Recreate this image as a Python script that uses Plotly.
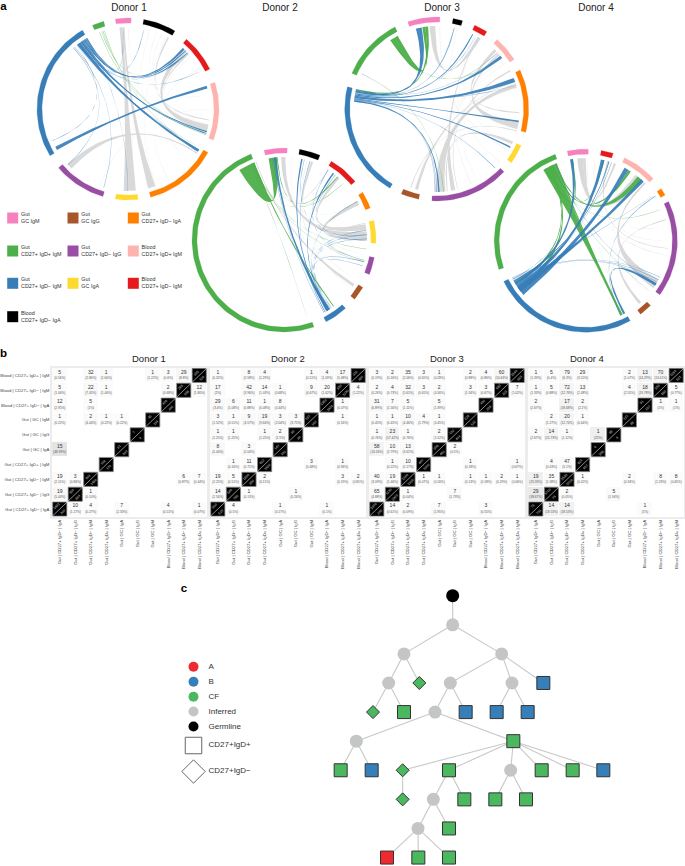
import math
import plotly.graph_objects as go

W, H = 685, 866

# ---------- palette ----------
COL = dict(pink="#f781bf", brown="#a65628", orange="#ff7f00", green="#4daf4a", purple="#984ea3",
           blue="#377eb8", yellow="#ffd92f", lpink="#fdb4ae", red="#e41a1c", black="#000000")
CHORD_COL = dict(g="rgba(215,215,215,0.95)", l="rgba(225,225,225,0.5)", b="rgba(55,126,184,0.92)",
                 t="rgba(55,126,184,0.6)", v="rgba(77,175,74,0.95)", w="rgba(77,175,74,0.55)")

# ---------- panel a : circos sectors (name, start deg, end deg), clockwise from top ----------
D1_SECTORS = [("green", -23, -15.5), ("pink", -8, 2), ("black", 10, 31), ("red", 40, 64), ("lpink", 73, 110),
              ("orange", 118.5, 165.6), ("yellow", 173.7, 188), ("purple", 196, 229.7), ("blue", 239, 330)]
D2_SECTORS = [("green", 161, 339), ("pink", 347.5, 362), ("black", 9.8, 23), ("red", 31, 50.6), ("orange", 58.8, 69.6),
              ("yellow", 77.8, 92), ("purple", 101, 112), ("brown", 121, 130), ("blue", 138, 152.8)]
D3_SECTORS = [("pink", 341.7, 362), ("black", 10.3, 16.3), ("red", 24.4, 33), ("lpink", 41, 57.4), ("orange", 65, 104.7),
              ("yellow", 113.4, 125.7), ("purple", 133, 183), ("brown", 191.3, 202.6), ("blue", 210.6, 284),
              ("green", 292.8, 333)]
D4_SECTORS = [("pink", 348.3, 361.6), ("red", 9.7, 17.4), ("lpink", 25, 47.4), ("orange", 55.4, 60), ("purple", 64.7, 126.2),
              ("brown", 135, 143.3), ("blue", 151, 243.6), ("green", 251.7, 340.5)]

# chords: (style, a0, a1, b0, b1) in degrees
D1_CHORDS = [
    ("l", 15, 15.4, 176, 176.4), ("l", 0, 0.4, 120, 120.4), ("l", 28, 28.4, 160, 160.4), ("l", 24, 24.4, 100, 100.4),
    ("l", 50, 50.4, 130, 130.4), ("l", 20, 20.4, 80, 80.4), ("l", 200, 200.4, 90, 90.4), ("l", 150, 150.4, 60, 60.4),
    ("g", 174.5, 183, 354, 356), ("g", 160.6, 165.8, 356, 357.5), ("g", 223.5, 227.6, 122, 123),
    ("g", 42, 46, 101, 106), ("g", 29, 30, 97, 98), ("g", 47, 48, 103, 104),
    ("w", -20.5, -20.1, 108, 108.4), ("w", -18, -17.6, 107, 107.4), ("w", -19, -18.6, 44, 44.4), ("w", -17, -16.6, 120, 120.4),
    ("b", 321.6, 324.5, 119.5, 121.5), ("b", 324.5, 326, 105.5, 106.5), ("b", 326, 327, 107, 107.6), ("b", 327, 328.4, 42, 43.5),
    ("b", 328.4, 329.2, 44, 45), ("b", 329.2, 330, 46, 47), ("t", 322, 322.5, 47, 47.5),
    ("b", 240, 242.5, 73.5, 75.5), ("t", 325, 325.4, 62, 62.5), ("t", 325.6, 326, 356, 356.5), ("t", 323, 323.4, 11, 11.5),
    ("t", 319, 319.4, 197, 197.4), ("t", 318, 318.4, 227, 227.4), ("t", 247, 247.4, 320, 320.4), ("t", 330, 330.3, 180, 180.3),
    ("t", 321, 321.3, 118, 118.4),
]
D2_CHORDS = [
    ("l", 352, 352.5, 46, 46.5), ("l", 12, 12.5, 118, 118.5), ("l", 359, 359.5, 82, 82.5), ("l", 16, 16.5, 125, 125.5), ("l", 5, 5.4, 100, 100.4),
    ("l", 352, 352.4, 64, 64.4), ("g", 358, 361, 84, 89), ("g", 40, 42, 79, 83), ("g", 19, 20.5, 40, 41), ("g", 62, 65, 88, 90.5),
    ("g", 122, 124, 340, 340.6), ("g", 105, 105.6, 78, 78.6), ("g", 350, 350.6, 32, 32.6),
    ("v", 327.4, 339, 349.3, 355), ("v", 338, 339, 142.5, 143.5), ("w", 336, 336.4, 163.4, 163.8), ("w", 338, 338.4, 96, 96.4),
    ("w", 337.5, 337.9, 104, 104.4), ("w", 337, 337.4, 46, 46.5), ("v", 355, 355.6, 40, 40.6),
    ("b", 146.5, 149, 353, 354.6), ("b", 148, 148.8, 12, 13), ("t", 150, 150.4, 18, 18.5), ("b", 147, 147.6, 36, 37), ("t", 148, 148.4, 62, 62.5),
    ("t", 145, 145.4, 86, 86.5), ("t", 146, 146.4, 89, 89.5), ("t", 146.5, 146.9, 105, 105.5), ("t", 149, 149.4, 83, 83.5),
    ("t", 150, 150.4, 108, 108.4), ("t", 151, 151.4, 352, 352.4), ("t", 14, 14.4, 90, 90.4), ("t", 32, 32.4, 104, 104.4), ("t", 38, 38.4, 87, 87.4),
]
D3_CHORDS = [
    ("l", 2, 2.5, 130, 130.4), ("l", 14, 14.4, 155, 155.5), ("l", 349, 349.5, 120, 120.5), ("l", 52, 52.5, 176, 176.5), ("l", 30, 30.5, 150, 150.5),
    ("l", 75, 75.5, 115, 115.5), ("l", 27, 27.4, 100, 100.4), ("l", 56, 56.4, 195, 195.4),
    ("g", 355, 359, 29.5, 32), ("g", 44, 46, 92, 93), ("g", 72, 75, 174, 181), ("g", 99, 104, 48, 49.5), ("g", 113, 115, 172, 173), ("g", 30, 30.6, 167, 170),
    ("g", 193, 195, 70, 70.6), ("g", 198, 198.6, 105, 105.6), ("g", 62, 63, 165, 165.6),
    ("v", 326, 332, 350, 352), ("w", 326, 326.5, 50, 50.5), ("w", 295, 295.4, 175, 175.4), ("v", 352, 354, 283, 284),
    ("b", 281.5, 283, 345.5, 349.5), ("t", 281, 281.5, 11.5, 12.5), ("b", 280.3, 281, 25, 26), ("b", 279.3, 280.3, 50, 52),
    ("b", 277.5, 279.3, 68, 71), ("b", 277, 277.5, 98, 99.2), ("b", 276.5, 277, 117, 118), ("t", 276, 276.5, 135, 135.5), ("b", 275, 276, 178, 179),
    ("t", 275, 275.4, 181, 181.4), ("t", 276, 276.4, 180, 180.4), ("t", 282, 282.4, 28, 28.4), ("t", 283, 283.4, 47, 47.4), ("t", 283, 283.4, 73, 73.5),
]
D4_CHORDS = [
    ("l", 6, 6.5, 100, 100.4), ("l", 30, 30.4, 90, 90.5), ("l", 35, 35.4, 130, 130.4), ("l", 1, 1.4, 150, 150.5), ("l", 355, 355.4, 100, 100.5),
    ("l", 16, 16.4, 80, 80.4), ("g", 118, 125, 45, 46.5), ("g", 138, 140, 75, 75.6), ("g", 15, 16, 95, 95.6), ("g", 354, 357, 37, 40), ("g", 42, 44, 356, 358),
    ("g", 358, 360, 20, 21.5),
    ("v", 338, 339.5, 153.5, 155), ("v", 329, 338, 154, 155), ("v", 338, 339, 39, 43), ("v", 336, 337, 12, 13), ("v", 335, 336, 31, 33),
    ("v", 334, 335, 232, 235), ("v", 333, 334, 238, 239.4), ("w", 332, 332.4, 67, 67.4), ("v", 330, 332, 350, 351), ("w", 333, 333.4, 128, 128.4),
    ("b", 229, 234, 28, 31), ("b", 234, 237.5, 10.5, 13), ("b", 237.5, 240, 349, 351), ("b", 232, 236, 42, 44.5), ("t", 240, 240.4, 56, 56.5),
    ("b", 240, 241, 16, 16.6), ("b", 151.5, 153, 121, 123), ("t", 155, 155.4, 57, 57.6), ("t", 241, 241.4, 118, 118.5), ("t", 242, 242.4, 116, 116.4), ("t", 237, 237.4, 18, 18.4),
    ("t", 243, 243.4, 120, 120.4), ("t", 242, 242.4, 350, 350.4), ("t", 338, 338.4, 122, 122.4),
]

# name, centre x, centre y, radius, sectors, chords, title x
DONORS_A = [
    ("Donor 1", 128, 109, 91, D1_SECTORS, D1_CHORDS, 129),
    ("Donor 2", 284, 240, 92, D2_SECTORS, D2_CHORDS, 280),
    ("Donor 3", 436.7, 109, 92, D3_SECTORS, D3_CHORDS, 442),
    ("Donor 4", 585.8, 240.7, 91.6, D4_SECTORS, D4_CHORDS, 596),
]

LEGEND_A = [("pink", "Gut", "GC IgM"), ("green", "Gut", "CD27+ IgD+ IgM"), ("blue", "Gut", "CD27+ IgD\u2212 IgM"),
            ("black", "Blood", "CD27+ IgD\u2212 IgA"), ("brown", "Gut", "GC IgG"), ("purple", "Gut", "CD27+ IgD\u2212 IgG"),
            ("yellow", "Gut", "GC IgA"), ("orange", "Gut", "CD27+ IgD\u2212 IgA"), ("lpink", "Blood", "CD27+ IgD+ IgM"),
            ("red", "Blood", "CD27+ IgD\u2212 IgM")]
LEGEND_A_X = [12.7, 12.7, 12.7, 12.7, 73, 73, 73, 133.3, 133.3, 133.3]
LEGEND_A_Y = [218, 251, 283.3, 316.7, 218, 251, 283.3, 218, 251, 283.3]

# ---------- panel b ----------
ROW_LABELS = ["Blood | CD27+ IgD+ | IgM", "Blood | CD27+ IgD\u2212 | IgM", "Blood | CD27+ IgD\u2212 | IgA", "Gut | GC | IgM", "Gut | GC | IgG",
              "Gut | GC | IgA", "Gut | CD27+ IgD+ | IgM", "Gut | CD27+ IgD\u2212 | IgM", "Gut | CD27+ IgD\u2212 | IgG", "Gut | CD27+ IgD\u2212 | IgA"]
COL_LABELS = ROW_LABELS[::-1]

D1_CELLS = [(0,0,5,"0.56"),(0,2,32,"2.86"),(0,3,1,"1.60"),(0,6,1,"1.22"),(0,7,3,"0.6"),(0,8,29,"8.8"),
            (1,0,5,"1.06"),(1,2,22,"7.45"),(1,3,1,"1.06"),(1,7,2,"0.68"),(1,9,12,"1.80"),
            (2,0,12,"2.95"),(2,2,5,"1"),(3,0,1,"0.22"),(3,2,2,"4.44"),(3,3,1,"0.22"),(3,4,1,"0.22"),
            (5,0,15,"48.39"),(7,0,19,"2.11"),(7,1,3,"0.86"),(7,8,6,"0.87"),(7,9,7,"0.44"),
            (8,0,19,"5.44"),(8,2,1,"0.10"),(9,1,10,"1.17"),(9,2,4,"0.27"),(9,4,7,"2.33"),(9,7,4,"0.51"),(9,9,1,"0.07")]
D2_CELLS = [(0,0,1,"0.32"),(0,2,8,"2.58"),(0,3,4,"1.29"),(0,6,1,"0.51"),(0,7,4,"1.09"),(0,8,17,"5.48"),
            (1,0,17,"2"),(1,2,42,"3.96"),(1,3,14,"1.03"),(1,4,1,"0.68"),(1,6,9,"4.67"),(1,7,20,"1.62"),(1,9,4,"1.22"),
            (2,0,29,"3.4"),(2,1,6,"1.08"),(2,2,11,"0.88"),(2,3,1,"0.08"),(2,4,8,"0.44"),(2,8,1,"0.07"),
            (3,0,3,"1.52"),(3,1,1,"0.51"),(3,2,9,"4.57"),(3,3,19,"9.64"),(3,4,3,"2.04"),(3,5,3,"3.75"),(3,8,1,"0.16"),
            (4,0,1,"1.25"),(4,1,1,"1.25"),(4,3,1,"1.25"),(4,4,2,"2.5"),(5,0,8,"5.44"),(5,2,3,"2.04"),
            (6,1,1,"0.16"),(6,2,11,"0.71"),(6,6,3,"0.48"),(6,8,1,"0.96"),
            (7,0,19,"2.25"),(7,1,5,"0.51"),(7,3,2,"0.11"),(7,8,3,"0.19"),(7,9,2,"0.81"),
            (8,0,14,"2.56"),(8,2,1,"0.13"),(8,5,1,"0.26"),(9,1,4,"0.5"),(9,4,1,"0.17"),(9,7,1,"0.1")]
D3_CELLS = [(0,0,3,"0.19"),(0,1,2,"0.16"),(0,2,35,"2.06"),(0,3,3,"0.65"),(0,4,1,"0.28"),(0,6,2,"0.88"),(0,7,4,"0.86"),(0,8,60,"10.66"),
            (1,0,2,"0.26"),(1,1,4,"0.73"),(1,2,32,"5.61"),(1,3,3,"0.65"),(1,4,2,"0.56"),(1,6,3,"1.34"),(1,7,3,"0.67"),(1,9,7,"1.02"),
            (2,0,31,"6.89"),(2,1,7,"1.56"),(2,2,5,"1.11"),(2,4,5,"1.39"),
            (3,0,1,"0.45"),(3,1,1,"0.45"),(3,2,10,"4.46"),(3,3,4,"1.79"),(3,4,1,"0.45"),
            (4,0,1,"0.76"),(4,1,23,"17.42"),(4,2,1,"0.76"),(4,4,2,"1.52"),
            (5,0,58,"16.16"),(5,1,10,"2.79"),(5,2,13,"3.62"),(5,5,2,"0.5"),
            (6,1,1,"0.22"),(6,2,10,"2.17"),(6,6,1,"0.18"),(6,9,1,"0.67"),
            (7,0,40,"3.09"),(7,1,19,"1.46"),(7,3,1,"0.07"),(7,4,1,"0.16"),(7,6,1,"0.13"),(7,7,1,"0.18"),(7,8,2,"0.29"),(7,9,1,"0.06"),
            (8,0,65,"4.88"),(8,2,1,"0.04"),(8,5,7,"1.73"),(9,1,14,"0.61"),(9,2,2,"0.09"),(9,4,7,"1.95"),(9,7,3,"0.55")]
D4_CELLS = [(0,0,1,"1.33"),(0,1,5,"0.4"),(0,2,79,"6.3"),(0,3,29,"3.15"),(0,6,2,"1.07"),(0,7,13,"14.29"),(0,8,70,"13.41"),
            (1,0,1,"1.33"),(1,1,5,"0.88"),(1,2,72,"12.76"),(1,3,13,"2.48"),(1,6,4,"2.55"),(1,7,18,"19.78"),(1,9,5,"0.77"),
            (2,0,2,"2.67"),(2,2,17,"18.68"),(2,3,2,"2.2"),(2,8,1,"1"),(2,9,1,"1"),
            (3,1,2,"1.27"),(3,2,20,"12.74"),(3,3,1,"0.64"),
            (4,0,2,"2.67"),(4,1,14,"15.73"),(4,2,1,"1.12"),(4,4,1,"25"),
            (6,1,4,"0.43"),(6,2,47,"5.1"),
            (7,0,19,"25.33"),(7,1,35,"1.38"),(7,3,1,"0.02"),(7,6,2,"0.34"),(7,8,8,"1.23"),(7,9,8,"0.45"),
            (8,0,29,"38.67"),(8,2,2,"0.05"),(8,5,5,"1.94"),(9,1,14,"18.53"),(9,2,14,"18.53"),(9,7,1,"1")]

# diagonal cells, rows from top: (upper count, lower count), estimated
D1_DIAG = [(329,124),(295,668),(406,400),(45,164),(7,3),(31,300),(119,170),(901,1480),(350,854),(1481,300)]
D2_DIAG = [(310,390),(850,1230),(1360,1820),(197,160),(80,80),(147,100),(622,1550),(1800,850),(546,760),(900,520)]
D3_DIAG = [(1540,563),(690,223),(450,359),(224,132),(132,404),(359,460),(460,1300),(1300,1330),(1330,2300),(2300,360)]
D4_DIAG = [(1254,521),(560,650),(91,157),(157,89),(89,4),(4,258),(921,917),(2535,5700),(5700,75),(75,751)]

# left and right of the four matrices
BOXES_B = [(52, 207), (210, 366), (369, 525), (528, 684)]
BOX_B_TOP, BOX_B_BOTTOM = 368, 516.5
DONORS_B = [("Donor 1", D1_CELLS, D1_DIAG), ("Donor 2", D2_CELLS, D2_DIAG), ("Donor 3", D3_CELLS, D3_DIAG), ("Donor 4", D4_CELLS, D4_DIAG)]

# ---------- panel c : tree ----------
# (parent, x position, depth, kind, shape)
TREE = [(None,878,0,"G","c"),(0,878,1,"I","c"),(1,732,2,"I","c"),(1,1025,2,"I","c"),(2,686,3,"I","c"),(2,778,3,"CF","d"),
        (3,871,3,"I","c"),(3,1056,3,"I","c"),(3,1150,3,"B","s"),(4,639,4,"CF","d"),(4,732,4,"CF","s"),(6,825,4,"I","c"),
        (6,917,4,"B","s"),(7,1010,4,"B","s"),(7,1103,4,"B","s"),(11,589,5,"I","c"),(11,1060,5,"CF","s"),(15,542,6,"CF","s"),
        (15,635,6,"B","s"),(16,728,6,"CF","d"),(16,867,6,"CF","s"),(16,1052,6,"I","c"),(16,1145,6,"CF","s"),(16,1238,6,"CF","s"),
        (16,1330,6,"B","s"),(19,728,7,"CF","d"),(20,820,7,"I","c"),(20,913,7,"CF","s"),(21,1006,7,"CF","s"),(21,1098,7,"CF","s"),
        (26,774,8,"I","c"),(26,867,8,"CF","s"),(30,681,9,"A","s"),(30,775,9,"CF","s"),(30,867,9,"CF","s")]
TREE_COL = dict(G="#000000", I="#c4c6c6", A="#ee2a2e", B="#377fb8", CF="#4bb85f")
LEGEND_C = [("A", "A"), ("B", "B"), ("CF", "CF"), ("I", "Inferred"), ("G", "Germline")]
LEGEND_C_Y = [666.7, 681.7, 696.7, 711.5, 726.5]

fig = go.Figure()

# ---------- helpers ----------
def pol(cx, cy, r, deg):
    a = math.radians(deg)
    return cx + r * math.sin(a), cy - r * math.cos(a)

def arc(cx, cy, r, a0, a1):
    n = max(2, int(abs(a1 - a0) / 2) + 1)
    return [pol(cx, cy, r, a0 + (a1 - a0) * i / n) for i in range(n + 1)]

def bez(p0, c, p1, n=36):
    out = []
    for i in range(1, n):
        t = i / n
        out.append(((1-t)**2*p0[0] + 2*t*(1-t)*c[0] + t*t*p1[0], (1-t)**2*p0[1] + 2*t*(1-t)*c[1] + t*t*p1[1]))
    return out

def ribbon(cx, cy, r, a0, a1, b0, b1):
    c = (cx, cy)
    A = arc(cx, cy, r, a0, a1)
    B = arc(cx, cy, r, b0, b1)
    return A + bez(A[-1], c, B[0]) + B + bez(B[-1], c, A[0]) + [A[0]]

# ---------- panel a ----------
for name, cx, cy, R, sectors, chords, tx in DONORS_A:
    rib_r = R - 9
    for style, a0, a1, b0, b1 in chords:
        pts = ribbon(cx, cy, rib_r, a0, a1, b0, b1)
        col = CHORD_COL[style]
        fig.add_trace(go.Scatter(x=[p[0] for p in pts], y=[p[1] for p in pts], mode="lines", fill="toself",
                                 fillcolor=col, line=dict(color=col, width=0), hoverinfo="skip", showlegend=False))
    for sec, a0, a1 in sectors:
        pts = arc(cx, cy, R, a0, a1) + arc(cx, cy, R - 5, a1, a0)
        pts.append(pts[0])
        fig.add_trace(go.Scatter(x=[p[0] for p in pts], y=[p[1] for p in pts], mode="lines", fill="toself",
                                 fillcolor=COL[sec], line=dict(color=COL[sec], width=0.2), hoverinfo="skip", showlegend=False))

fig.add_trace(go.Scatter(x=[d[6] for d in DONORS_A], y=[8.5] * 4, mode="text", text=[d[0] for d in DONORS_A],
                         textfont=dict(family="Liberation Sans", size=10, color="#222"), hoverinfo="skip", showlegend=False))
fig.add_trace(go.Scatter(x=LEGEND_A_X, y=LEGEND_A_Y, mode="markers", hoverinfo="skip", showlegend=False,
                         marker=dict(symbol="square", size=11, opacity=1, color=[COL[l[0]] for l in LEGEND_A], line=dict(width=0))))
fig.add_trace(go.Scatter(x=[x + 8.3 for x in LEGEND_A_X], y=LEGEND_A_Y, mode="text", textposition="middle right",
                         text=[f"{l[1]}<br>{l[2]}" for l in LEGEND_A], hoverinfo="skip", showlegend=False,
                         textfont=dict(family="Liberation Sans", size=5.4, color="#333")))

# panel letters
fig.add_trace(go.Scatter(x=[3.5, 3.5, 184], y=[7, 354.5, 589], mode="text", text=["<b>a</b>", "<b>b</b>", "<b>c</b>"],
                         textfont=dict(family="Liberation Sans", size=11.5, color="#000"), hoverinfo="skip", showlegend=False))

# legend c
lx = 193.5
fig.add_trace(go.Scatter(x=[lx] * 5, y=LEGEND_C_Y, mode="markers", hoverinfo="skip", showlegend=False,
                         marker=dict(symbol="circle", size=10, opacity=1, color=[TREE_COL[k] for k, _ in LEGEND_C], line=dict(width=0))))
fig.add_trace(go.Scatter(x=[lx + 15] * 5, y=LEGEND_C_Y, mode="text", textposition="middle right", text=[t for _, t in LEGEND_C],
                         textfont=dict(family="Liberation Sans", size=8, color="#333"), hoverinfo="skip", showlegend=False))
fig.add_trace(go.Scatter(x=[lx, lx], y=[745.5, 771.5], mode="markers", hoverinfo="skip", showlegend=False,
                         marker=dict(symbol=["square", "diamond"], size=[16.5, 18], opacity=1, color="white", line=dict(width=1, color="#666"))))
fig.add_trace(go.Scatter(x=[lx + 15, lx + 15], y=[745, 771], mode="text", textposition="middle right", text=["CD27+IgD+", "CD27+IgD\u2212"],
                         textfont=dict(family="Liberation Sans", size=8, color="#333"), hoverinfo="skip", showlegend=False))

layout_extra = dict(
    xaxis=dict(domain=[0, 1], range=[0, W], visible=False, fixedrange=True),
    yaxis=dict(domain=[0, 1], range=[H, 0], visible=False, fixedrange=True),
)
annotations = []

# ---------- panel b ----------
def yfrac(px):
    return 1 - px / H

for i, ((title, cells, diag), (x0, x1)) in enumerate(zip(DONORS_B, BOXES_B)):
    n = i + 2
    xa, ya = f"x{n}", f"y{n}"
    layout_extra[f"xaxis{n}"] = dict(domain=[x0 / W, x1 / W], range=[-0.5, 9.5], anchor=ya, tickmode="array",
                                     tickvals=list(range(10)), ticktext=COL_LABELS, tickangle=-90, ticklen=0, showgrid=False, zeroline=False,
                                     tickfont=dict(family="Liberation Sans", size=4.3, color="#444"), showline=True, mirror=True,
                                     linecolor="#ececec", linewidth=1.5, fixedrange=True)
    layout_extra[f"yaxis{n}"] = dict(domain=[yfrac(BOX_B_BOTTOM), yfrac(BOX_B_TOP)], range=[9.5, -0.5], anchor=xa, tickmode="array",
                                     tickvals=list(range(10)), ticktext=ROW_LABELS if i == 0 else [""] * 10, ticklen=0, showgrid=False, zeroline=False,
                                     tickfont=dict(family="Liberation Sans", size=4.3, color="#444"), showline=True, mirror=True,
                                     linecolor="#ececec", linewidth=1.5, fixedrange=True)
    z = [[None] * 10 for _ in range(10)]
    for r, c, cnt, pct in cells:
        z[r][c] = float(pct)
    fig.add_trace(go.Heatmap(z=z, x=list(range(10)), y=list(range(10)), xaxis=xa, yaxis=ya, showscale=False, hoverinfo="skip",
                             zmin=0, zmax=60, colorscale=[[0, "#fbfbfb"], [1, "#dfdfdf"]], xgap=1, ygap=1))
    diag_x = [9 - r for r in range(10)]
    fig.add_trace(go.Scatter(x=diag_x, y=list(range(10)), xaxis=xa, yaxis=ya, mode="markers", hoverinfo="skip", showlegend=False,
                             marker=dict(symbol="square", size=14.2, opacity=1, color="#000", line=dict(width=0.8, color="#8a8a8a"))))
    fig.add_trace(go.Scatter(x=[-0.5, 9.5], y=[9.5, -0.5], xaxis=xa, yaxis=ya, mode="lines", hoverinfo="skip", showlegend=False,
                             line=dict(color="#e8e8e8", width=0.6)))
    fig.add_trace(go.Scatter(x=[c[1] for c in cells], y=[c[0] - 0.2 for c in cells], xaxis=xa, yaxis=ya, mode="text",
                             text=[str(c[2]) for c in cells], textfont=dict(family="Liberation Sans", size=5, color="#333"),
                             hoverinfo="skip", showlegend=False))
    fig.add_trace(go.Scatter(x=[c[1] for c in cells], y=[c[0] + 0.2 for c in cells], xaxis=xa, yaxis=ya, mode="text",
                             text=[f"({c[3]}%)" for c in cells], textfont=dict(family="Liberation Sans", size=3.2, color="#555"),
                             hoverinfo="skip", showlegend=False))
    for r, (up, lo) in enumerate(diag):
        c = 9 - r
        annotations.append(dict(x=c - 0.19, y=r - 0.19, xref=xa, yref=ya, text=str(up), showarrow=False, textangle=-45,
                                font=dict(family="Liberation Sans", size=3.4, color="#ddd")))
        annotations.append(dict(x=c + 0.19, y=r + 0.19, xref=xa, yref=ya, text=str(lo), showarrow=False, textangle=-45,
                                font=dict(family="Liberation Sans", size=3.4, color="#ddd")))
    annotations.append(dict(x=(x0 + x1) / 2 / W, y=yfrac(358.5), xref="paper", yref="paper", text=title, showarrow=False,
                            font=dict(family="Liberation Sans", size=9.5, color="#222")))

# ---------- panel c ----------
layout_extra["xaxis6"] = dict(domain=[160 / W, 640 / W], range=[0, 1440], anchor="y6", visible=False, fixedrange=True)
layout_extra["yaxis6"] = dict(domain=[yfrac(866), yfrac(575)], range=[9.29, -0.711], anchor="x6", visible=False, fixedrange=True)
ex, ey = [], []
for p, x, d, k, s in TREE:
    if p is not None:
        ex += [TREE[p][1], x, None]
        ey += [TREE[p][2], d, None]
fig.add_trace(go.Scatter(x=ex, y=ey, xaxis="x6", yaxis="y6", mode="lines", line=dict(color="#c8c8c8", width=1.1),
                         hoverinfo="skip", showlegend=False))
SYM = dict(c="circle", s="square", d="diamond")
fig.add_trace(go.Scatter(x=[t[1] for t in TREE], y=[t[2] for t in TREE], xaxis="x6", yaxis="y6", mode="markers", hoverinfo="skip", showlegend=False,
                         marker=dict(symbol=[SYM[t[4]] for t in TREE], opacity=1,
                                     size=[13 if t[4] == "c" else (13 if t[4] == "s" else 10) for t in TREE],
                                     color=[TREE_COL[t[3]] for t in TREE],
                                     line=dict(width=[0 if t[4] == "c" else 1 for t in TREE], color="#333"))))

fig.update_layout(width=W, height=H, margin=dict(l=0, r=0, t=0, b=0), paper_bgcolor="white", plot_bgcolor="rgba(0,0,0,0)",
                  showlegend=False, annotations=annotations, **layout_extra)
fig.write_html("out.html", config={"displayModeBar": False},
               post_script="document.body.style.margin='0';document.documentElement.style.overflow='hidden';")
